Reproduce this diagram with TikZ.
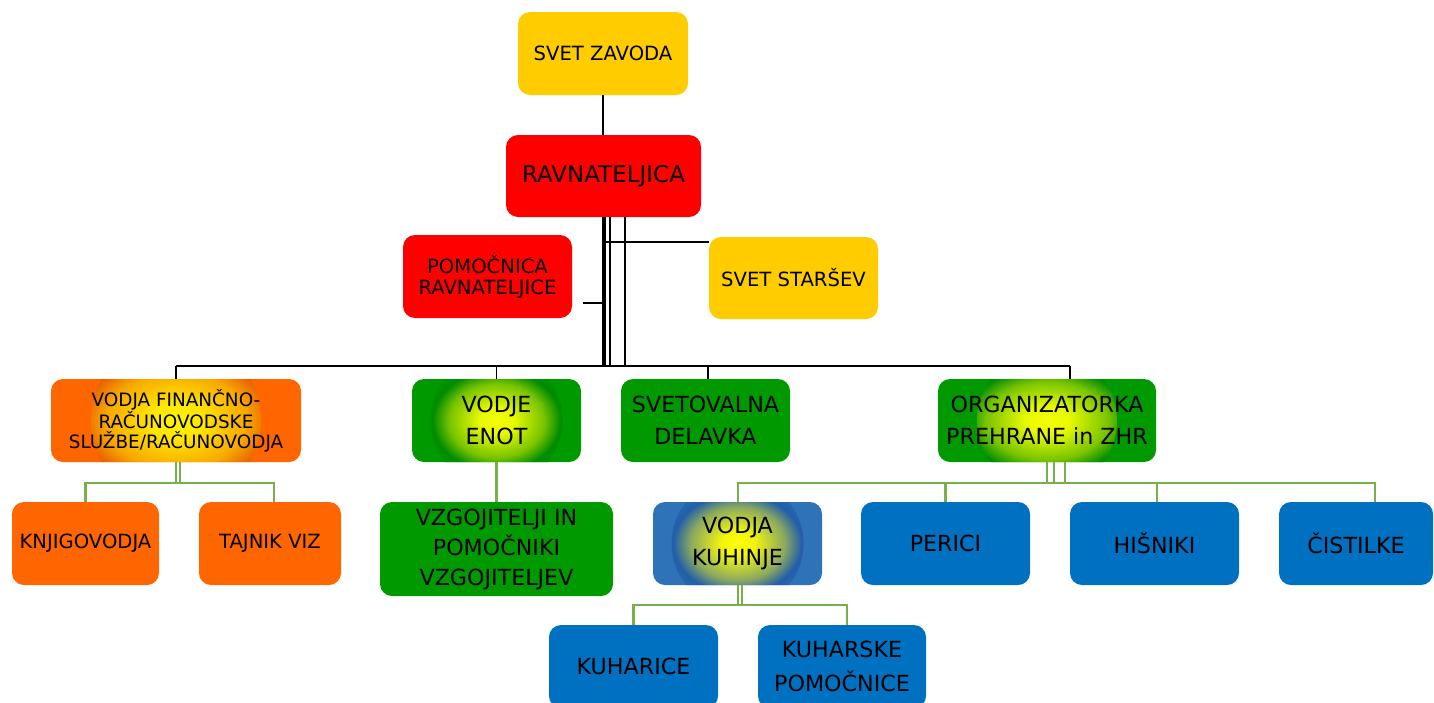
\documentclass[tikz,border=0pt]{standalone}
\usepackage{fontspec}
\setmainfont{DejaVu Sans}
\definecolor{cyel}{HTML}{FFCC00}
\definecolor{cred}{HTML}{FF0000}
\definecolor{corange}{HTML}{FF6600}
\definecolor{cgreen}{HTML}{009900}
\definecolor{cblue}{HTML}{0070C0}
\definecolor{cbglow}{HTML}{2E72B8}
\definecolor{cline}{HTML}{77B04A}
\colorlet{gA}{yellow}
\colorlet{gB}{yellow}
\colorlet{gC}{orange}
\colorlet{gD}{orange}
\colorlet{gE}{orange}
\pgfdeclareradialshading[gA,gB,gC,gD,gE]{glow}{\pgfpoint{0bp}{0bp}}{color(0bp)=(gA); color(5bp)=(gB); color(14bp)=(gC); color(19bp)=(gD); color(25bp)=(gE); color(50bp)=(gE)}
\begin{document}
\begin{tikzpicture}[x=1pt,y=-1pt,
  box/.style={rounded corners=12pt, inner sep=0pt, align=center, text=black, minimum height=83pt, minimum width=169pt},
  fs/.style={font=\fontsize{19.6}{22}\selectfont},
  fb/.style={font=\fontsize{22.2}{32}\selectfont},
  yel/.style={box, fill=cyel},
  red/.style={box, fill=cred},
  orflat/.style={box, fill=corange},
  grflat/.style={box, fill=cgreen},
  blflat/.style={box, fill=cblue},
  glowpic/.style={path picture={\shade[shading=glow] (path picture bounding box.center) circle (#1);}},
  orglow/.style={box, fill=corange, /utils/exec={\definecolor{gA}{HTML}{FFF400}\definecolor{gB}{HTML}{FFE800}\definecolor{gC}{HTML}{F8A800}\definecolor{gD}{HTML}{E86000}\definecolor{gE}{HTML}{FF6600}}, glowpic=#1},
  grglow/.style={box, fill=cgreen, /utils/exec={\definecolor{gA}{HTML}{F4FF00}\definecolor{gB}{HTML}{E8FA00}\definecolor{gC}{HTML}{78C400}\definecolor{gD}{HTML}{008C00}\definecolor{gE}{HTML}{009900}}, glowpic=#1},
  blglow/.style={box, fill=cbglow, /utils/exec={\definecolor{gA}{HTML}{FFFF00}\definecolor{gB}{HTML}{F0F410}\definecolor{gC}{HTML}{8AA860}\definecolor{gD}{HTML}{215FA8}\definecolor{gE}{HTML}{2E72B8}}, glowpic=#1},
  blk/.style={draw=black, line width=1.2pt},
  grn/.style={draw=cline, line width=2.6pt}]
\useasboundingbox (0,0) rectangle (1434,702);

% nodes
\node[yel, fs, minimum width=170pt] (sz) at (603,53.5) {SVET ZAVODA};
\node[red, font=\fontsize{23}{32}\selectfont, minimum width=195pt, minimum height=82pt] (rav) at (603.5,176) {RAVNATELJICA};
\node[red, font=\fontsize{19.6}{21}\selectfont] (pom) at (487.5,276.5) {POMOČNICA\\RAVNATELJICE};
\node[yel, fs, minimum height=82pt] (ss) at (793.5,278) {SVET STARŠEV};

\node[orglow=85pt, font=\fontsize{18.4}{20}\selectfont, minimum width=250pt] (vfin) at (176,420.5) {VODJA FINANČNO-\\RAČUNOVODSKE\\SLUŽBE/RAČUNOVODJA};
\node[grglow=66pt, fb] (ven) at (496.5,420.5) {VODJE\\ENOT};
\node[grflat, fb] (svd) at (705.5,420.5) {SVETOVALNA\\DELAVKA};
\node[grglow=70pt, fb, minimum width=218pt] (org) at (1047,420.5) {ORGANIZATORKA\\PREHRANE in ZHR};

\node[orflat, fs, minimum width=147pt] (knj) at (85.5,543.5) {KNJIGOVODJA};
\node[orflat, fs, minimum width=142pt] (taj) at (270,543.5) {TAJNIK VIZ};
\node[grflat, font=\fontsize{22.2}{30}\selectfont, minimum width=233pt, minimum height=94pt] (vzg) at (496.5,549) {VZGOJITELJI IN\\POMOČNIKI\\VZGOJITELJEV};
\node[blglow=66pt, fb] (vkuh) at (737.5,543.5) {VODJA\\KUHINJE};
\node[blflat, fb] (per) at (945.5,543.5) {PERICI};
\node[blflat, fb] (his) at (1154.5,543.5) {HIŠNIKI};
\node[blflat, fb, minimum width=154pt] (cis) at (1356,543.5) {ČISTILKE};
\node[blflat, fb] (kuh) at (633.5,666.5) {KUHARICE};
\node[blflat, font=\fontsize{22.2}{34}\selectfont, minimum width=168pt] (kpom) at (842,666.5) {KUHARSKE\\POMOČNICE};

% black connectors
\coordinate (bus) at (0,366);
\coordinate (pomend) at (583,303);
\draw[blk] (sz.south) -- (sz.south |- rav.north);
\draw[blk] ([xshift=-0.5pt]rav.south) |- (pomend);
\draw[blk] ([xshift=1.5pt]rav.south) |- (ss.west |- 0,242);
\draw[blk] ([xshift=-0.5pt]rav.south) -- ([xshift=-0.5pt]rav.south |- bus);
\draw[blk] ([xshift=1.5pt]rav.south) -- ([xshift=1.5pt]rav.south |- bus);
\draw[blk] ([xshift=6.5pt]rav.south) -- ([xshift=6.5pt]rav.south |- bus);
\draw[blk] ([xshift=21.5pt]rav.south) -- ([xshift=21.5pt]rav.south |- bus);
\draw[blk] (vfin.north |- bus) -- ([xshift=23pt]org.north |- bus);
\draw[blk] (vfin.north |- bus) -- (vfin.north);
\draw[blk] (ven.north |- bus) -- (ven.north);
\draw[blk] ([xshift=2.5pt]svd.north |- bus) -- ([xshift=2.5pt]svd.north);
\draw[blk] ([xshift=23pt]org.north |- bus) -- ([xshift=23pt]org.north);

% green connectors
\draw[grn] (vfin.south) -- ++(0,21);
\draw[grn] ([xshift=4pt]vfin.south) -- ++(0,21);
\draw[grn] (knj.north) -- ++(0,-19) -| ([xshift=4pt]taj.north);
\draw[grn] (ven.south) -- (ven.south |- vzg.north);
\draw[grn] (org.south) -- ++(0,21);
\draw[grn] ([xshift=7pt]org.south) -- ++(0,21);
\draw[grn] ([xshift=18pt]org.south) -- ++(0,21);
\draw[grn] ([xshift=0.5pt]vkuh.north) -- ++(0,-19) -| ([xshift=19pt]cis.north);
\draw[grn] (per.north) -- ++(0,-19);
\draw[grn] ([xshift=2.5pt]his.north) -- ++(0,-19);
\draw[grn] ([xshift=0.5pt]vkuh.south) -- ++(0,20);
\draw[grn] ([xshift=4.5pt]vkuh.south) -- ++(0,20);
\draw[grn] (kuh.north) -- ++(0,-20) -| ([xshift=5pt]kpom.north);
\end{tikzpicture}
\end{document}
